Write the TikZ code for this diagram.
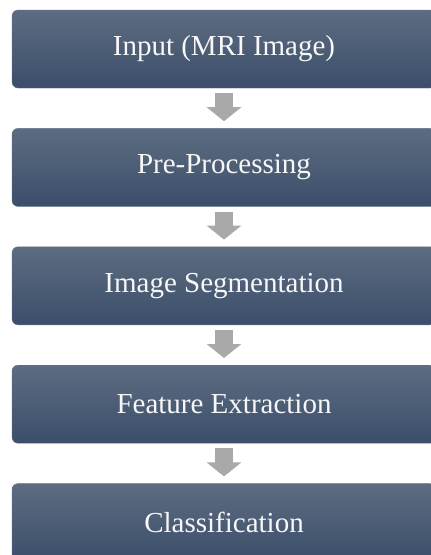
\documentclass[tikz,border=0pt]{standalone}
\usepackage{fontspec}
\setmainfont{Liberation Serif}
\usetikzlibrary{positioning,arrows.meta}
\definecolor{boxtop}{HTML}{5D6C81}
\definecolor{boxbottom}{HTML}{3B4E6A}
\definecolor{arrowgray}{HTML}{A9A9A9}
\begin{document}
\begin{tikzpicture}[x=1pt, y=1pt, node distance={40pt},
			step box/.style = {rounded corners=6pt, top color=boxtop, bottom color=boxbottom, draw=boxbottom!80!white, line width=0.4pt,
				minimum width=424pt, minimum height=78pt, inner sep=0pt, text=white!94!gray,
				font=\fontsize{29}{34}\selectfont},
			block arrow/.style={line width=18pt, draw=arrowgray, -{Triangle[width=34pt,length=14pt]}, shorten <=5pt, shorten >=7pt}]
			
			\useasboundingbox (0,0) rectangle (431,-555);
			\clip (0,0) rectangle (431,-555);
			
			\node[step box] (input) at (224,-49) {Input (MRI Image)};
			\node[step box] (pre) [below=of input] {Pre-Processing};
			\node[step box] (seg) [below=of pre] {Image Segmentation};
			\node[step box] (feat) [below=of seg] {Feature Extraction};
			\node[step box] (cls) [below=of feat] {Classification};
			
			\draw[block arrow] (input) -- (pre);
			\draw[block arrow] (pre) -- (seg);
			\draw[block arrow] (seg) -- (feat);
			\draw[block arrow] (feat) -- (cls);
		\end{tikzpicture}
\end{document}
